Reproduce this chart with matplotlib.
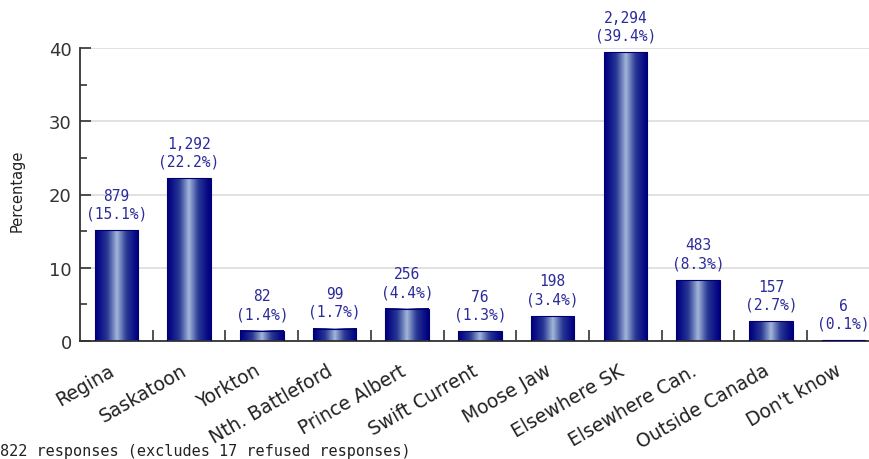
import numpy as np
import matplotlib
matplotlib.use("Agg")
import matplotlib.pyplot as plt
import matplotlib.transforms as mtrans
from matplotlib.colors import LinearSegmentedColormap

categories = ["Regina", "Saskatoon", "Yorkton", "Nth. Battleford", "Prince Albert",
              "Swift Current", "Moose Jaw", "Elsewhere SK", "Elsewhere Can.",
              "Outside Canada", "Don't know"]
counts = [879, 1292, 82, 99, 256, 76, 198, 2294, 483, 157, 6]
percents = [15.1, 22.2, 1.4, 1.7, 4.4, 1.3, 3.4, 39.4, 8.3, 2.7, 0.1]
y_ticks = [0, 10, 20, 30, 40]
y_label = "Percentage"
footnote = "822 responses (excludes 17 refused responses)"

W, H = 869, 460
fig = plt.figure(figsize=(W / 100, H / 100), dpi=100)
ax = fig.add_axes([80 / W, (H - 342) / H, (W - 80) / W, (342 - 49) / H])

x = np.arange(len(categories))
bars = ax.bar(x, percents, width=0.6, color="none", edgecolor="#000070",
              linewidth=0.8, zorder=3)

cmap = LinearSegmentedColormap.from_list("barg", ["#000080", "#2a3a96", "#a3b6d8"])
t = np.linspace(0, 1, 64)
prof = (1 - np.abs(2 * t - 1)) ** 1.2
grad = prof[np.newaxis, :]
for b in bars:
    x0 = b.get_x()
    x1 = x0 + b.get_width()
    h = b.get_height()
    ax.imshow(grad, extent=[x0, x1, 0, h], aspect="auto", cmap=cmap,
              vmin=0, vmax=1, zorder=2, interpolation="bilinear")

for xi, c, p in zip(x, counts, percents):
    ax.annotate(f"{c:,}\n({p}%)", xy=(xi, p), xytext=(0, 7),
                textcoords="offset points", ha="center", va="bottom",
                fontsize=10.5, family="DejaVu Sans Mono", color="#2b2b9a",
                linespacing=1.25, annotation_clip=False)

ax.set_xlim(-0.5, 10.35)
ax.set_ylim(0, 40)
ax.set_yticks(y_ticks)
ax.set_yticks(np.arange(5, 40, 10), minor=True)
ax.tick_params(axis="y", which="major", direction="in", length=8, width=1.2,
               labelsize=13, colors="#333333", pad=6)
ax.tick_params(axis="y", which="minor", direction="in", length=5, width=1.2,
               colors="#333333")
ax.set_xticks(x)
ax.set_xticklabels(categories, rotation=30, ha="right", va="top",
                   rotation_mode="anchor", fontsize=13.5, color="#222222")
ax.tick_params(axis="x", which="major", length=0, pad=14)
shift = mtrans.ScaledTranslation(-8 / 100, 0, fig.dpi_scale_trans)
for lab in ax.get_xticklabels():
    lab.set_transform(lab.get_transform() + shift)
ax.set_xticks(np.arange(0.5, 10.5, 1), minor=True)
ax.tick_params(axis="x", which="minor", direction="in", length=8, width=1.2,
               colors="#333333")
ax.yaxis.grid(True, color="#dcdcdc", linewidth=1.2, zorder=0)
ax.set_axisbelow(True)
for s in ["top", "right"]:
    ax.spines[s].set_visible(False)
for s in ["left", "bottom"]:
    ax.spines[s].set_color("#333333")
    ax.spines[s].set_linewidth(1.3)

fig.text(17 / W, 1 - 191 / H, y_label, rotation=90, ha="center", va="center",
         fontsize=10.5, color="#222222")
fig.text(0, 1 - 452 / H, footnote, ha="left", va="center", fontsize=11,
         family="DejaVu Sans Mono", color="#222222")

fig.savefig("out.png", dpi=100)
